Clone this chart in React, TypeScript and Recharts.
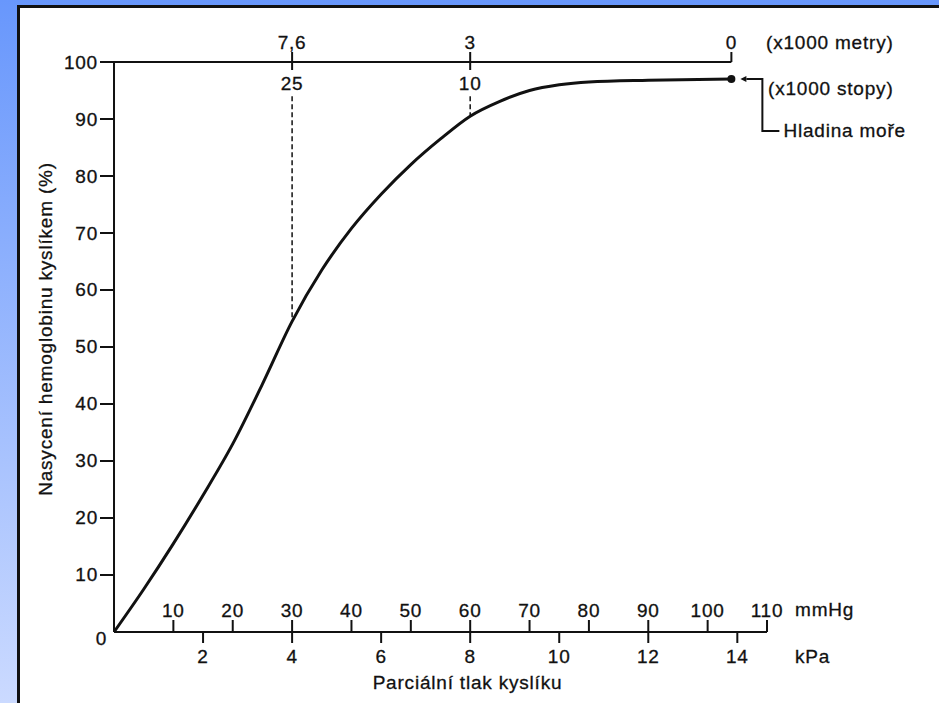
import React from 'react';
import { LineChart, Line, XAxis, YAxis, ReferenceLine, ReferenceDot } from 'recharts';

// disociační křivka hemoglobinu
const pO2Mmhg = [0, 5, 10, 15, 20, 25, 30, 35, 40, 45, 50, 55, 60, 65, 70, 75, 80, 90, 104];
const saturation = [0, 7.5, 15.5, 24, 33, 43.5, 54.5, 63.5, 70.8, 76.8, 82, 86.5, 90.5, 93.1, 95, 96, 96.5, 96.8, 97];

const mmHgTicks = [10, 20, 30, 40, 50, 60, 70, 80, 90, 100, 110];
const kPaTicks = [2, 4, 6, 8, 10, 12, 14];
const satTicks = [0, 10, 20, 30, 40, 50, 60, 70, 80, 90, 100];

// nadmořská výška na horní ose (pozice v mmHg)
const altitudeAt = [30, 60, 104];
const altitudeMetres = ['7,6', '3', '0'];
const altitudeFeet = ['25', '10'];
const dashTop = 94;

const MMHG_PER_KPA = 7.5;
const INK = '#111';
const FONT = '"Liberation Sans", Arial, sans-serif';

const data = pO2Mmhg.map((x, i) => ({ x, kPa: x / MMHG_PER_KPA, s: saturation[i] }));
const satAt = (x: number) => saturation[pO2Mmhg.indexOf(x)];
const seaLevel = { x: pO2Mmhg[pO2Mmhg.length - 1], y: saturation[saturation.length - 1] };

const textStyle = {
  fill: INK,
  stroke: INK,
  strokeWidth: 0.3,
  fontSize: 19,
  fontFamily: FONT,
  letterSpacing: 0.8,
};

const SideNote = (props: any) => {
  const { viewBox, text, dx, dy } = props;
  return (
    <text
      x={viewBox.x + viewBox.width + dx}
      y={viewBox.y + dy}
      dominantBaseline="central"
      {...textStyle}
    >
      {text}
    </text>
  );
};

const CenterNote = (props: any) => {
  const { viewBox, text, dx, dy } = props;
  return (
    <text
      x={viewBox.x + viewBox.width / 2 + dx}
      y={viewBox.y + dy}
      textAnchor="middle"
      dominantBaseline="central"
      {...textStyle}
    >
      {text}
    </text>
  );
};

const YTitle = (props: any) => {
  const { viewBox } = props;
  const cx = viewBox.x - 68;
  const cy = viewBox.y + viewBox.height / 2 - 18;
  return (
    <text
      x={cx}
      y={cy}
      transform={`rotate(-90 ${cx} ${cy})`}
      textAnchor="middle"
      dominantBaseline="central"
      {...textStyle}
    >
      Nasycení hemoglobinu kyslíkem (%)
    </text>
  );
};

const SatTick = (props: any) => {
  const { x, y, payload } = props;
  const zero = payload.value === 0;
  return (
    <g>
      {!zero && <line x1={x + 2} x2={x + 16} y1={y} y2={y} stroke={INK} strokeWidth={2} />}
      <text
        x={zero ? x + 9 : x}
        y={zero ? y + 7 : y}
        textAnchor="end"
        dominantBaseline="central"
        {...textStyle}
      >
        {payload.value}
      </text>
    </g>
  );
};

const SeaLevelNote = (props: any) => {
  const { viewBox } = props;
  const cx = viewBox.x + viewBox.width / 2;
  const cy = viewBox.y + viewBox.height / 2;
  return (
    <g>
      <polygon points={`${cx + 9},${cy} ${cx + 15},${cy - 3} ${cx + 15},${cy + 3}`} fill={INK} />
      <polyline
        points={`${cx + 15},${cy} ${cx + 31},${cy} ${cx + 31},${cy + 52} ${cx + 48},${cy + 52}`}
        fill="none"
        stroke={INK}
        strokeWidth={2}
      />
      <text x={cx + 52} y={cy + 51} dominantBaseline="central" {...textStyle}>
        Hladina moře
      </text>
    </g>
  );
};

export default function App() {
  return (
    <div
      style={{
        position: 'absolute',
        left: 0,
        top: 0,
        width: 939,
        height: 703,
        overflow: 'hidden',
        background: 'linear-gradient(#6897fc, #cbdaff)',
      }}
    >
      <div
        style={{
          position: 'absolute',
          left: 17,
          top: 5,
          width: 960,
          height: 720,
          background: '#fff',
          borderLeft: `3px solid ${INK}`,
          borderTop: `3px solid ${INK}`,
        }}
      />
      <div style={{ position: 'absolute', left: 0, top: 0 }}>
        <LineChart
          width={939}
          height={703}
          data={data}
          margin={{ top: 62, right: 172, left: 114, bottom: 71 }}
        >
          <XAxis
            xAxisId="mmHg"
            dataKey="x"
            type="number"
            domain={[0, 110]}
            allowDataOverflow
            ticks={mmHgTicks}
            orientation="bottom"
            mirror
            height={0.01}
            tickSize={12}
            tickMargin={3}
            axisLine={{ stroke: INK, strokeWidth: 2 }}
            tickLine={{ stroke: INK, strokeWidth: 2 }}
            tick={textStyle}
            label={<SideNote text="mmHg" dx={28} dy={-22} />}
          />
          <XAxis
            xAxisId="kPa"
            dataKey="kPa"
            type="number"
            domain={[0, 110 / MMHG_PER_KPA]}
            allowDataOverflow
            ticks={kPaTicks}
            orientation="bottom"
            height={0.01}
            tickSize={11}
            tickMargin={7}
            axisLine={false}
            tickLine={{ stroke: INK, strokeWidth: 2 }}
            tick={textStyle}
            label={<SideNote text="kPa" dx={28} dy={25} />}
          />
          <XAxis
            xAxisId="feet"
            dataKey="x"
            type="number"
            domain={[0, 110]}
            allowDataOverflow
            ticks={altitudeAt.slice(0, altitudeFeet.length)}
            tickFormatter={(v) => altitudeFeet[altitudeAt.indexOf(v)]}
            orientation="top"
            mirror
            height={0.01}
            tickSize={8}
            tickMargin={6}
            axisLine={false}
            tickLine={{ stroke: INK, strokeWidth: 2 }}
            tick={textStyle}
            label={<SideNote text="(x1000 stopy)" dx={1} dy={26} />}
          />
          <XAxis
            xAxisId="metres"
            dataKey="x"
            type="number"
            domain={[0, 110]}
            allowDataOverflow
            ticks={altitudeAt}
            tickFormatter={(v) => altitudeMetres[altitudeAt.indexOf(v)]}
            orientation="top"
            height={0.01}
            tickSize={10}
            tickMargin={3}
            axisLine={false}
            tickLine={{ stroke: INK, strokeWidth: 2 }}
            tick={textStyle}
            label={<SideNote text="(x1000 metry)" dx={-1} dy={-20} />}
          />
          <YAxis
            type="number"
            domain={[0, 100]}
            allowDataOverflow
            ticks={satTicks}
            width={0.01}
            tickSize={14}
            tickMargin={2}
            axisLine={{ stroke: INK, strokeWidth: 2 }}
            tickLine={false}
            tick={<SatTick />}
            label={<YTitle />}
          />
          <ReferenceLine
            xAxisId="mmHg"
            segment={[{ x: 0, y: 100 }, { x: seaLevel.x, y: 100 }]}
            stroke={INK}
            strokeWidth={2}
          />
          {altitudeFeet.map((_, i) => (
            <ReferenceLine
              key={i}
              xAxisId="mmHg"
              segment={[
                { x: altitudeAt[i], y: dashTop },
                { x: altitudeAt[i], y: satAt(altitudeAt[i]) },
              ]}
              stroke={INK}
              strokeWidth={1.5}
              strokeDasharray="5 3"
            />
          ))}
          <Line
            xAxisId="mmHg"
            type="monotone"
            dataKey="s"
            stroke={INK}
            strokeWidth={3}
            dot={false}
            isAnimationActive={false}
          />
          <ReferenceDot
            xAxisId="mmHg"
            x={seaLevel.x}
            y={seaLevel.y}
            r={4}
            fill={INK}
            stroke="none"
            label={<SeaLevelNote />}
          />
          <XAxis
            xAxisId="title"
            dataKey="x"
            type="number"
            domain={[0, 110]}
            allowDataOverflow
            ticks={[]}
            orientation="bottom"
            height={0.01}
            axisLine={false}
            tick={false}
            label={<CenterNote text="Parciální tlak kyslíku" dx={27} dy={51} />}
          />
        </LineChart>
      </div>
    </div>
  );
}
